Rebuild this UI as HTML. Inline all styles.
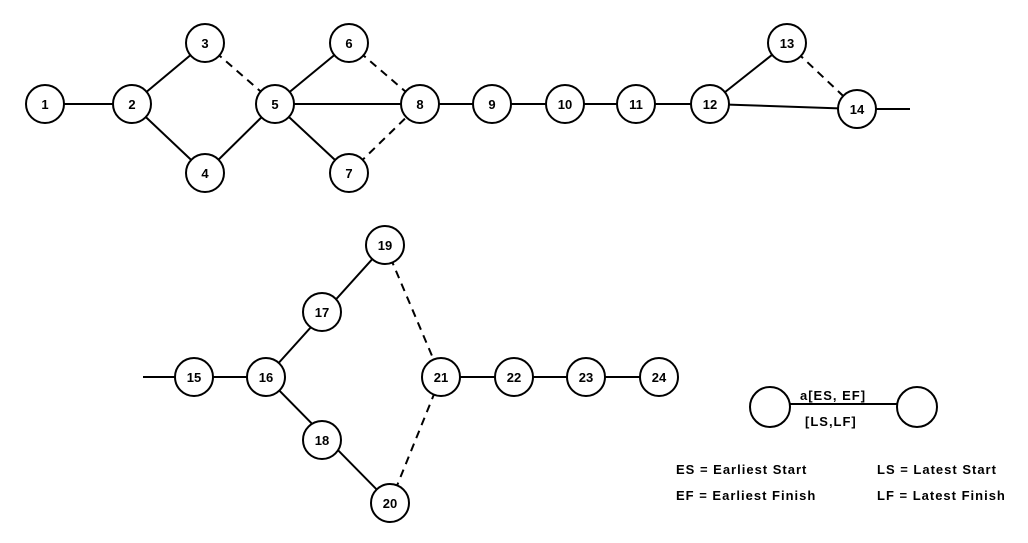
<!DOCTYPE html>
<html><head><style>body{margin:0;background:#fff}svg{display:block}text{font-family:"Liberation Sans",sans-serif;font-weight:bold;fill:#000}</style></head><body>
<svg width="1028" height="543" xmlns="http://www.w3.org/2000/svg">
<g stroke="#000" stroke-width="2" fill="none">
<line x1="45" y1="104" x2="132" y2="104"/>
<line x1="132" y1="104" x2="205" y2="43"/>
<line x1="132" y1="104" x2="205" y2="173"/>
<line x1="205" y1="173" x2="275" y2="104"/>
<line x1="205" y1="43" x2="275" y2="104" stroke-dasharray="8,6"/>
<line x1="275" y1="104" x2="349" y2="43"/>
<line x1="275" y1="104" x2="349" y2="173"/>
<line x1="275" y1="104" x2="420" y2="104"/>
<line x1="349" y1="43" x2="420" y2="104" stroke-dasharray="8,6"/>
<line x1="349" y1="173" x2="420" y2="104" stroke-dasharray="8,6"/>
<line x1="420" y1="104" x2="710" y2="104"/>
<line x1="710" y1="104" x2="787" y2="43"/>
<line x1="710" y1="104" x2="857" y2="109"/>
<line x1="787" y1="43" x2="857" y2="109" stroke-dasharray="8,6"/>
<line x1="857" y1="109" x2="910" y2="109"/>
<line x1="143" y1="377" x2="266" y2="377"/>
<line x1="266" y1="377" x2="385" y2="245"/>
<line x1="266" y1="377" x2="390" y2="503"/>
<line x1="385" y1="245" x2="441" y2="377" stroke-dasharray="8,6"/>
<line x1="390" y1="503" x2="441" y2="377" stroke-dasharray="8,6"/>
<line x1="441" y1="377" x2="659" y2="377"/>
<line x1="770" y1="404" x2="917" y2="404"/>
</g>
<g stroke="#000" stroke-width="2" fill="#fff">
<circle cx="45" cy="104" r="19"/><circle cx="132" cy="104" r="19"/><circle cx="205" cy="43" r="19"/><circle cx="205" cy="173" r="19"/>
<circle cx="275" cy="104" r="19"/><circle cx="349" cy="43" r="19"/><circle cx="349" cy="173" r="19"/><circle cx="420" cy="104" r="19"/>
<circle cx="492" cy="104" r="19"/><circle cx="565" cy="104" r="19"/><circle cx="636" cy="104" r="19"/><circle cx="710" cy="104" r="19"/>
<circle cx="787" cy="43" r="19"/><circle cx="857" cy="109" r="19"/>
<circle cx="194" cy="377" r="19"/><circle cx="266" cy="377" r="19"/><circle cx="322" cy="312" r="19"/><circle cx="322" cy="440" r="19"/>
<circle cx="385" cy="245" r="19"/><circle cx="390" cy="503" r="19"/><circle cx="441" cy="377" r="19"/><circle cx="514" cy="377" r="19"/>
<circle cx="586" cy="377" r="19"/><circle cx="659" cy="377" r="19"/>
<circle cx="770" cy="407" r="20"/><circle cx="917" cy="407" r="20"/>
</g>
<g font-size="13" text-anchor="middle">
<text x="45" y="109">1</text><text x="132" y="109">2</text><text x="205" y="48">3</text><text x="205" y="178">4</text>
<text x="275" y="109">5</text><text x="349" y="48">6</text><text x="349" y="178">7</text><text x="420" y="109">8</text>
<text x="492" y="109">9</text><text x="565" y="109">10</text><text x="636" y="109">11</text><text x="710" y="109">12</text>
<text x="787" y="48">13</text><text x="857" y="114">14</text>
<text x="194" y="382">15</text><text x="266" y="382">16</text><text x="322" y="317">17</text><text x="322" y="445">18</text>
<text x="385" y="250">19</text><text x="390" y="508">20</text><text x="441" y="382">21</text><text x="514" y="382">22</text>
<text x="586" y="382">23</text><text x="659" y="382">24</text>
</g>
<g font-size="13" letter-spacing="1">
<text x="800" y="400">a[ES, EF]</text>
<text x="805" y="426">[LS,LF]</text>
<text x="676" y="474">ES = Earliest Start</text>
<text x="676" y="500">EF = Earliest Finish</text>
<text x="877" y="474">LS = Latest Start</text>
<text x="877" y="500">LF = Latest Finish</text>
</g>
</svg>
</body></html>
